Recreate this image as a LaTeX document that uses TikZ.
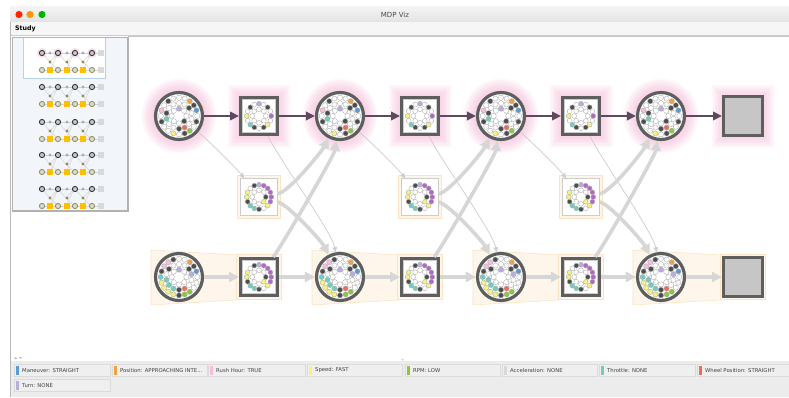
\documentclass[tikz,border=0pt]{standalone}
\usepackage{fontspec}
\setmainfont{DejaVu Sans}
\usetikzlibrary{calc,positioning,arrows.meta,backgrounds}
\definecolor{nodeedge}{HTML}{5E5E5E}
\definecolor{bestline}{HTML}{5E4A5E}
\definecolor{flowgray}{HTML}{D6D6D6}
\definecolor{hintgray}{HTML}{CCCCCC}
\definecolor{glowpink}{HTML}{F0A6CC}
\definecolor{bandfill}{HTML}{FEF6EA}
\definecolor{bandline}{HTML}{FBE4C4}
\definecolor{termgray}{HTML}{C6C6C6}
\definecolor{legbg}{HTML}{ECECEC}
\definecolor{legfill}{HTML}{EFEFEF}
\definecolor{mapbg}{HTML}{F2F5FA}
\definecolor{mapview}{HTML}{B8D2EC}
\definecolor{dotline}{HTML}{A9A9A9}
\definecolor{dotw}{HTML}{FFFFFF}
\definecolor{dotk}{HTML}{4D4D4D}
\definecolor{doto}{HTML}{F2A041}
\definecolor{dotb}{HTML}{5B9BD5}
\definecolor{dotr}{HTML}{F26B55}
\definecolor{dotg}{HTML}{8CC63F}
\definecolor{doty}{HTML}{F7F17F}
\definecolor{dott}{HTML}{6FCFBE}
\definecolor{dotp}{HTML}{F6BFD9}
\definecolor{dotl}{HTML}{B8AEDD}
\definecolor{dotv}{HTML}{B467C6}
\definecolor{dote}{HTML}{D9D9D9}
\tikzset{
     stnode/.style  = {circle, draw=nodeedge, line width=3.2pt, fill=white, minimum size=47pt, inner sep=0pt},
     actnode/.style = {rectangle, draw=nodeedge, line width=3pt, fill=white, minimum size=37pt, inner sep=0pt},
     endnode/.style = {actnode, fill=termgray, minimum size=39pt},
     chnode/.style  = {rectangle, draw=gray!40, line width=0.6pt, fill=white, minimum size=37pt, inner sep=0pt},
     bestedge/.style = {draw=bestline, line width=2.2pt, -{Triangle[length=9pt,width=8.5pt]}},
     flowedge/.style = {draw=flowgray, line width=3.6pt, -{Triangle[length=10pt,width=10pt]}},
     hintedge/.style = {draw=hintgray, line width=0.7pt, -{Triangle[length=5pt,width=4.5pt]}},
     dot/.style = {fill=dot#1, draw=dotline, line width=0.35pt},
     legbox/.style = {draw=gray!28, fill=legfill, line width=0.5pt, minimum height=12pt, inner sep=0pt, anchor=north west},
     legtext/.style = {font=\fontsize{5.3}{6}\selectfont, text=black!75, anchor=west, inner sep=0pt},
     minilink/.style = {draw=gray!35, line width=0.5pt},
    }
% one ring of dots: radius, count, dot size, colours
\newcommand{\dotring}[4]{\foreach \dc [count=\i] in {#4} {\path[dot=\dc] ({-90+(\i-1)*360/#2}:#1) circle (#3);}}
\newcommand{\topstatedots}{%
  \dotring{18.3}{20}{2.6pt}{w,w,o,k,b,w,k,w,g,k,w,y,w,w,k,w,p,w,k,w}%
  \dotring{12.8}{14}{2.6pt}{w,w,k,w,w,w,r,k,w,w,t,k,w,w}%
  \dotring{7.3}{8}{2.6pt}{l,w,w,k,w,w,w,w}}
\newcommand{\lowstatedots}{%
  \dotring{18.3}{20}{2.6pt}{w,w,o,k,b,w,w,w,g,g,k,y,y,y,y,t,k,p,p,k}%
  \dotring{12.8}{14}{2.6pt}{w,w,k,l,w,w,r,k,t,t,t,w,k,w}%
  \dotring{7.3}{8}{2.6pt}{l,w,w,w,w,w,w,w}}
\newcommand{\topactdots}{%
  \dotring{12.3}{16}{2.4pt}{l,w,k,w,v,w,y,k,w,k,t,w,y,w,k,w}%
  \dotring{6.8}{8}{2.4pt}{w,w,w,w,w,w,w,w}}
\newcommand{\lowactdots}{%
  \dotring{12.3}{16}{2.4pt}{l,v,v,v,v,v,y,w,k,t,t,k,y,y,w,k}%
  \dotring{6.8}{8}{2.4pt}{w,w,k,y,w,w,w,w}}

\begin{document}
\begin{tikzpicture}[x=1pt, y=-1pt]
\useasboundingbox (0,0) rectangle (789,397);

% window frame
\shade[top color=gray!8, bottom color=gray!22] (10,6) rectangle (789,22);
\foreach \x/\col in {19/{red!70!orange}, 30/{orange!80!yellow}, 42/{green!70!black}}
  \fill[\col] (\x,14.5) circle (3.6pt);
\node[font=\fontsize{7}{8}\selectfont, text=black!70] (title) at (395,14.5) {MDP Viz};
\fill[gray!7] (10,22) rectangle (789,35);
\draw[gray!40] (10,35.5) -- (789,35.5);
\node[anchor=west, inner sep=0pt, font=\bfseries\fontsize{6.3}{7}\selectfont] (menu) at (15,28.5) {Study};
\draw[gray!45] (128,36.5) -- (789,36.5);
\draw[gray!55, line width=1.5pt] (10.5,22) -- (10.5,397);

% minimap
\draw[gray!60, line width=1.2pt, fill=mapbg] (12.5,37.5) rectangle (128,211);
\begin{scope}
  \clip (13,38) rectangle (127.5,210.5);
  \draw[mapview, fill=white] (23,36) rectangle (105,78);
  \foreach \x in {42,58,75,92} \fill[glowpink!35] (\x,53) circle (5pt);
  \foreach \T in {53,87,122,155,189} {
    \draw[minilink] (42,\T) -- (101,\T);
    \draw[minilink] (42,\T+17) -- (101,\T+17);
    \foreach \x in {42,58,75} {
      \draw[minilink] (\x,\T) -- (\x+8,\T+9) -- (\x+16,\T+17);
      \draw[minilink] (\x+8,\T+9) -- (\x+16,\T);
      \draw[minilink] (\x+8,\T+17) -- (\x+16,\T);
    }
    \foreach \x in {42,58,75,92} {
      \filldraw[fill=gray!45, draw=gray!30!black, line width=0.8pt] (\x,\T) circle (2.6pt);
      \filldraw[fill=gray!30, draw=olive!45!gray, line width=0.8pt] (\x,\T+17) circle (2.6pt);
    }
    \foreach \x in {50,67,83} {
      \fill[gray!65] (\x,\T) circle (1.6pt);
      \fill[orange!50!yellow] (\x-3,\T+14) rectangle (\x+3,\T+20);
      \fill[olive!40!gray] (\x,\T+9) circle (1.7pt);
    }
    \fill[gray!30] (98,\T-3) rectangle (104,\T+3);
    \fill[gray!30] (98,\T+14) rectangle (104,\T+20);
  }
\end{scope}

% graph nodes
\foreach \n/\x/\s in {1/179/259, 2/340/420, 3/501/581} {
  \node[stnode]  (t\n)  at (\x,116) {};
  \node[actnode] (ta\n) at (\s,116) {};
  \node[chnode]  (m\n)  at (\s,197) {};
  \node[stnode]  (b\n)  at (\x,277) {};
  \node[actnode] (ba\n) at (\s,277) {};
}
\node[stnode]  (t4) at (661,116) {};
\node[stnode]  (b4) at (661,277) {};
\node[endnode] (te) at (743,116) {};
\node[endnode] (be) at (743,277) {};

\begin{scope}[on background layer]
  % glow round the best path
  \foreach \n in {1,2,3,4} {
    \foreach \r in {27,28.5,...,38} \fill[glowpink, opacity=0.08] (t\n) circle (\r pt);
  }
  \foreach \n in {ta1,ta2,ta3,te} {
    \foreach \r in {21,22.5,...,32} \fill[glowpink, opacity=0.08] ($(\n)+(-\r,-\r)$) rectangle ($(\n)+(\r,\r)$);
  }
  % bands of the lower row
  \foreach \n/\a in {1/ba1, 2/ba2, 3/ba3, 4/be} {
    \filldraw[fill=bandfill, draw=bandline, line width=0.6pt]
      ($(b\n)+(-28,-27)$) -- ($(\a)+(-22,-22)$) -- ($(\a)+(-22,23)$) -- ($(b\n)+(-28,28)$) -- cycle;
    \filldraw[fill=bandfill, draw=bandline, line width=0.6pt] ($(\a)+(-22.5,-22.5)$) rectangle ($(\a)+(22.5,22.5)$);
  }
  \foreach \n in {1,2,3}
    \filldraw[fill=bandfill, draw=bandline, line width=0.8pt] ($(m\n)+(-21.5,-21.5)$) rectangle ($(m\n)+(21.5,21.5)$);
\end{scope}

% inner frame of the action boxes
\foreach \n in {ta1,ta2,ta3,ba1,ba2,ba3}
  \draw[gray!40, line width=0.5pt] ($(\n.north west)+(3.6,3.6)$) rectangle ($(\n.south east)+(-3.6,-3.6)$);

% dots
\foreach \n in {1,2,3,4} {
  \begin{scope}[shift={(t\n)}] \topstatedots \end{scope}
  \begin{scope}[shift={(b\n)}] \lowstatedots \end{scope}
}
\foreach \n in {ta1,ta2,ta3} {
  \begin{scope}[shift={(\n)}] \topactdots \end{scope}
}
\foreach \n in {m1,m2,m3,ba1,ba2,ba3} {
  \begin{scope}[shift={(\n)}] \lowactdots \end{scope}
}

% edges
\foreach \k/\nk in {1/2, 2/3, 3/4} {
  \draw[hintedge] (t\k) .. controls +(30,25) and +(-22,-28) .. (m\k);
  \draw[hintedge] (ta\k) .. controls +(18,40) and +(-8,-45) .. (b\nk);
  \draw[flowedge] (m\k) .. controls +(30,-5) and +(-18,35) .. (t\nk);
  \draw[flowedge] (m\k) .. controls +(30,8) and +(-18,-35) .. (b\nk);
  \draw[flowedge] (ba\k) .. controls +(25,-35) and +(-6,40) .. (t\nk);
  \path (t\k) edge[bestedge] (ta\k)
        (ta\k) edge[bestedge] (t\nk)
        (b\k) edge[flowedge] (ba\k)
        (ba\k) edge[flowedge] (b\nk);
}
\path (t4) edge[bestedge] (te)
      (b4) edge[flowedge] (be);

% legend
\fill[legbg] (11.3,361) rectangle (789,397);
\fill[gray!50] (14,359) -- (15.6,357) -- (17.2,359) -- cycle;
\fill[gray!50] (19,357) -- (20.6,359) -- (22.2,357) -- cycle;
\fill[gray!40] (402.5,359.5) circle (1pt);
\foreach \n/\x/\y/\w/\col/\txt in {
    1/14/364/96/dotb/{Maneuver: STRAIGHT},
    2/112/364/95/doto/{Position: APPROACHING INTE...},
    3/208/364/97/dotp/{Rush Hour: TRUE},
    4/307/364/95/doty/{Speed: FAST},
    5/405/364/95/dotg/{RPM: LOW},
    6/502/364/95/dote/{Acceleration: NONE},
    7/599/364/96/dott/{Throttle: NONE},
    8/697/364/92/dotr/{Wheel Position: STRAIGHT},
    9/14/379/96/dotl/{Turn: NONE}} {
  \node[legbox, minimum width=\w pt] (lg\n) at (\x,\y) {};
  \fill[\col] ($(lg\n.west)+(2,-4.5)$) rectangle ($(lg\n.west)+(5,4.5)$);
  \node[legtext] (lt\n) at ($(lg\n.west)+(8,0)$) {\txt};
}
\end{tikzpicture}
\end{document}
